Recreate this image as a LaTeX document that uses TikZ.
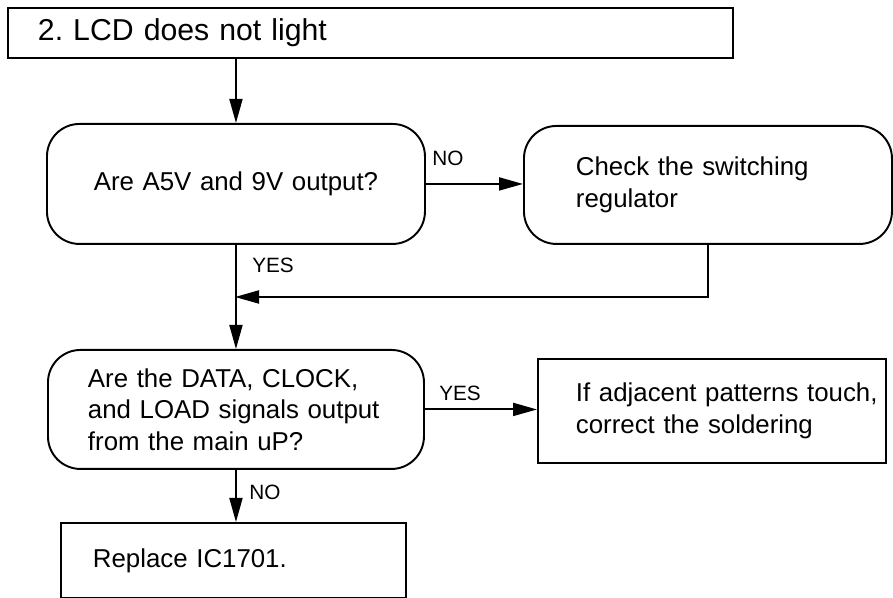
\documentclass[tikz,border=0pt]{standalone}
\usepackage{fontspec}
\setmainfont{Liberation Sans}
\frenchspacing
\usetikzlibrary{positioning, arrows.meta}

\begin{document}
\begin{tikzpicture}[
      qbox/.style={rectangle, draw, rounded corners=0.65cm, line width=1.1pt, align=left, anchor=north west, font=\fontsize{14.7}{18}\selectfont},
      abox/.style={rectangle, draw, line width=1.1pt, align=left, anchor=north west, font=\fontsize{14.7}{18}\selectfont},
      lbl/.style={font=\fontsize{11.8}{13}\selectfont, inner sep=0pt},
      link/.style={-{Triangle[length=4.8mm, width=2.6mm]}, line width=1.1pt}]

      \useasboundingbox (0,0) rectangle (17.86,11.96);

      % Titre
      \node[abox, font=\fontsize{17.2}{20}\selectfont, inner xsep=0.6cm, text width=13.3cm, minimum height=1cm] (title) at (0.14, 11.82) {2. LCD does not light};

      % Questions (gauche)
      \node[qbox, align=center, inner xsep=0.3cm, text width=6.96cm, minimum height=2.4cm] (q1) at (0.92, 9.5) {Are A5V and 9V output?};
      \node[qbox, inner xsep=0.8cm, text width=5.92cm, minimum height=2.38cm] (q2) at (0.94, 4.98) {Are the DATA, CLOCK,\\\mbox{and LOAD signals output}\\from the main uP?};

      % Actions (droite / bas)
      \node[qbox, inner xsep=1.04cm, text width=5.28cm, minimum height=2.36cm] (chk) at (10.46, 9.46) {Check the switching\\regulator};
      \node[abox, inner xsep=0.76cm, text width=5.44cm, minimum height=2.08cm] (fix1) at (10.74, 4.8) {\mbox{If adjacent patterns touch,}\\correct the soldering};
      \node[abox, inner xsep=0.64cm, text width=5.62cm, minimum height=1.5cm] (ic) at (1.2, 1.52) {Replace IC1701.};

      % Reponses
      \node[lbl] (no1) at (8.96, 8.8) {NO};
      \node[lbl] (yes1) at (5.46, 6.66) {YES};
      \node[lbl] (yes2) at (9.2, 4.1) {YES};
      \node[lbl] (no2) at (5.3, 2.12) {NO};

      % Fleches
      \coordinate (join) at (4.7, 6.02);
      \draw[link] (title.south -| q1.north) -- (q1.north);
      \draw[link] (q1.east) -- (q1.east -| chk.west);
      \draw[link] (q1.south) -- (q2.north);
      \draw[link] (chk.south) |- (join);
      \draw[link] (q2.east) -- (q2.east -| fix1.west);
      \draw[link] (q2.south) -- (q2.south |- ic.north);
    \end{tikzpicture}
\end{document}
